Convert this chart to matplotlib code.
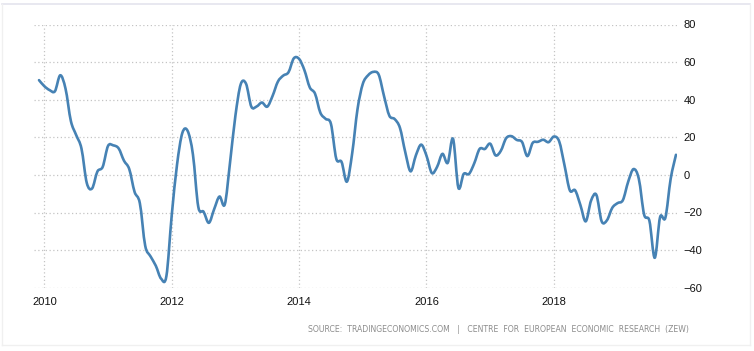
import matplotlib
matplotlib.use("Agg")
import matplotlib.pyplot as plt
from matplotlib.path import Path
from matplotlib.patches import PathPatch
from matplotlib.lines import Line2D
import numpy as np

# ZEW economic sentiment, monthly, Dec 2009 .. Dec 2019
start_year, start_month = 2009, 12
values = [
    50.4,
    47.2, 45.1, 44.5, 53.0, 45.8, 28.7, 21.2, 14.0, -4.3, -7.2, 1.8, 4.3,
    15.4, 15.7, 14.1, 7.6, 3.1, -9.0, -15.1, -37.6, -43.3, -48.3, -55.2, -53.8,
    -21.6, 5.4, 22.3, 23.4, 10.8, -16.9, -19.6, -25.5, -18.2, -11.5, -15.7, 6.9,
    31.5, 48.2, 48.5, 36.3, 36.4, 38.5, 36.3, 42.0, 49.6, 52.8, 54.6, 62.0,
    61.7, 55.7, 46.6, 43.2, 33.1, 29.8, 27.1, 8.6, 6.9, -3.6, 11.5, 34.9,
    48.4, 53.0, 54.8, 53.3, 41.9, 31.5, 29.7, 25.0, 12.1, 1.9, 10.4, 16.1,
    10.2, 1.0, 4.3, 11.2, 6.4, 19.2, -6.8, 0.5, 0.5, 6.2, 13.8, 13.8,
    16.6, 10.4, 12.8, 19.5, 20.6, 18.6, 17.5, 10.0, 17.0, 17.6, 18.7, 17.4,
    20.4, 17.8, 5.1, -8.2, -8.2, -16.1, -24.7, -13.7, -10.6, -24.7, -24.1, -17.5,
    -15.0, -13.4, -3.6, 3.1, -2.1, -21.1, -24.5, -44.1, -22.5, -22.8, -2.1, 10.7,
]
x_ticks = [2010, 2012, 2014, 2016, 2018]
y_ticks = [-60, -40, -20, 0, 20, 40, 60, 80]
source = "SOURCE:  TRADINGECONOMICS.COM   |   CENTRE  FOR  EUROPEAN  ECONOMIC  RESEARCH  (ZEW)"

x = np.array([start_year + (start_month - 1 + i) / 12 for i in range(len(values))])
y = np.array(values)

fig = plt.figure(figsize=(7.54, 3.51), dpi=100)
ax = fig.add_axes([34 / 754, 1 - 287.7 / 351, 642.7 / 754, 263.2 / 351])

# smooth curve through the monthly points (catmull-rom as bezier segments)
verts = [(x[0], y[0])]
codes = [Path.MOVETO]
n = len(x)
for i in range(n - 1):
    p0 = i - 1 if i > 0 else i
    p3 = i + 2 if i + 2 < n else i + 1
    c1 = (x[i] + (x[i + 1] - x[p0]) / 6, y[i] + (y[i + 1] - y[p0]) / 6)
    c2 = (x[i + 1] - (x[p3] - x[i]) / 6, y[i + 1] - (y[p3] - y[i]) / 6)
    verts += [c1, c2, (x[i + 1], y[i + 1])]
    codes += [Path.CURVE4] * 3
ax.add_patch(PathPatch(Path(verts, codes), facecolor="none", edgecolor="#4682b4",
                       lw=1.9, capstyle="round", joinstyle="round", zorder=3))

ax.set_xlim(2009.838, 2019.928)
ax.set_ylim(-60, 80)
ax.set_xticks(x_ticks)
ax.set_xticklabels([str(t) for t in x_ticks])
ax.set_yticks(y_ticks)
ax.yaxis.tick_right()
ax.tick_params(axis="both", length=0, labelsize=8, labelcolor="#111111")
ax.tick_params(axis="x", pad=7)
ax.tick_params(axis="y", pad=5)
for lab in ax.get_xticklabels() + ax.get_yticklabels():
    lab.set_family(["Liberation Sans", "DejaVu Sans"])
ax.grid(True, linestyle=(0, (1, 2)), color="#c4c4c4", lw=0.9)
for s in ax.spines.values():
    s.set_visible(False)

fig.text(689 / 754, 1 - 330 / 351, source, ha="right", va="center",
         fontsize=5.6, color="#8c8c8c", family=["DejaVu Sans"])

# outer frame
fig.add_artist(Line2D([2 / 754, 750 / 754], [1 - 4 / 351, 1 - 4 / 351], color="#e4e4ee", lw=1.2))
fig.add_artist(Line2D([2 / 754, 2 / 754], [1 - 4 / 351, 1 - 345 / 351], color="#f0f0f0", lw=1))
fig.add_artist(Line2D([750 / 754, 750 / 754], [1 - 4 / 351, 1 - 345 / 351], color="#f0f0f0", lw=1))
fig.add_artist(Line2D([2 / 754, 750 / 754], [1 - 345 / 351, 1 - 345 / 351], color="#f0f0f0", lw=1))

fig.savefig("out.png", dpi=100, facecolor="white")
